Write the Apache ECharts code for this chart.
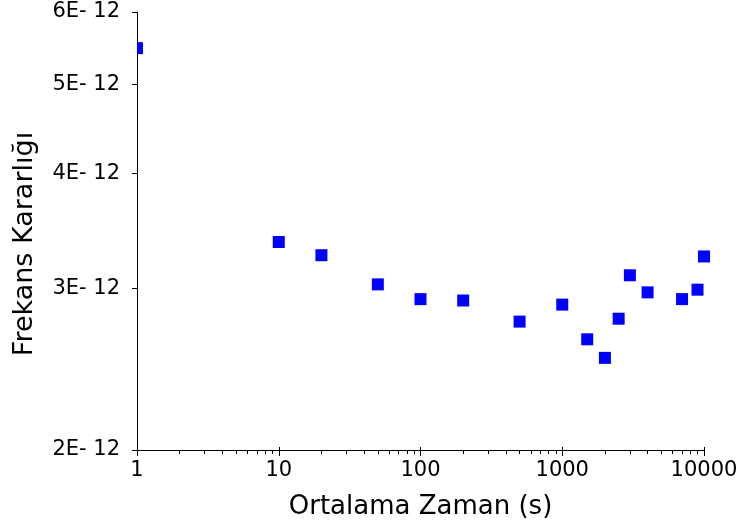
<!DOCTYPE html>
<html>
<head>
<meta charset="utf-8">
<script src="https://cdn.jsdelivr.net/npm/echarts@6/dist/echarts.min.js"></script>
<style>
  html, body { margin: 0; padding: 0; background: #fff; }
  #chart { width: 741px; height: 528px; }
</style>
</head>
<body>
<div id="chart"></div>
<script>
"use strict";
// averaging time (s) and frequency stability
const tau = [1, 10, 20, 50, 100, 200, 500, 1000, 1500, 2000, 2500, 3000, 4000, 7000, 9000, 10000];
const stability = [5.48e-12, 3.37e-12, 3.26e-12, 3.03e-12, 2.92e-12, 2.91e-12, 2.76e-12, 2.88e-12,
  2.64e-12, 2.52e-12, 2.78e-12, 3.10e-12, 2.97e-12, 2.92e-12, 2.99e-12, 3.25e-12];

const xMajorTicks = [1, 10, 100, 1000, 10000];
const xMinorTicks = [2, 3, 4, 5, 6, 7, 8, 9, 20, 30, 40, 50, 60, 70, 80, 90,
  200, 300, 400, 500, 600, 700, 800, 900, 2000, 3000, 4000, 5000, 6000, 7000, 8000, 9000];
const yTicks = [2e-12, 3e-12, 4e-12, 5e-12, 6e-12];
const yTickLabels = ["2E- 12", "3E- 12", "4E- 12", "5E- 12", "6E- 12"];

const font = "DejaVu Sans";
const chart = echarts.init(document.getElementById("chart"));

function yLabel(v) {
  let best = 0;
  yTicks.forEach((t, i) => {
    if (Math.abs(t - v) < Math.abs(yTicks[best] - v)) best = i;
  });
  return yTickLabels[best];
}

const xBase = {
  type: "log",
  min: 1,
  max: 10000,
  position: "bottom",
  splitLine: { show: false }
};

chart.setOption({
  animation: false,
  backgroundColor: "#fff",
  grid: { left: 137, right: 37, top: 12, bottom: 78 },
  xAxis: [
    Object.assign({}, xBase, {
      name: "Ortalama Zaman (s)",
      nameLocation: "middle",
      nameGap: 44,
      nameTextStyle: { fontFamily: font, fontSize: 26, color: "#000" },
      axisLine: { lineStyle: { color: "#000", width: 1 } },
      axisTick: { length: 6, lineStyle: { color: "#000" }, customValues: xMajorTicks },
      axisLabel: {
        fontFamily: font, fontSize: 21, color: "#000", margin: 10,
        customValues: xMajorTicks,
        formatter: (v) => String(Math.round(v))
      }
    }),
    Object.assign({}, xBase, {
      axisLine: { show: false },
      axisLabel: { show: false },
      axisTick: { length: 4, lineStyle: { color: "#000" }, customValues: xMinorTicks }
    }),
    Object.assign({}, xBase, {
      axisLine: { show: false },
      axisLabel: { show: false },
      axisTick: { inside: true, length: 3, lineStyle: { color: "#000" }, customValues: xMajorTicks }
    })
  ],
  yAxis: {
    type: "log",
    min: 2e-12,
    max: 6e-12,
    name: "Frekans Kararlığı",
    nameLocation: "middle",
    nameGap: 99,
    nameTextStyle: { fontFamily: font, fontSize: 27, color: "#000", padding: [0, 26, 0, 0] },
    splitLine: { show: false },
    axisLine: { show: true, lineStyle: { color: "#000", width: 1 } },
    axisTick: { show: true, length: 5, lineStyle: { color: "#000" }, customValues: yTicks },
    axisLabel: {
      fontFamily: font, fontSize: 21, color: "#000", margin: 17,
      customValues: yTicks,
      formatter: yLabel
    }
  },
  series: [{
    // custom series: squares are cut only at the y axis, like the original
    type: "custom",
    xAxisIndex: 0,
    yAxisIndex: 0,
    clip: false,
    data: tau.map((t, i) => [t, stability[i]]),
    renderItem: function (params, api) {
      const p = api.coord([api.value(0), api.value(1)]);
      const s = 12;
      const left = Math.max(p[0] - s / 2, params.coordSys.x);
      const right = p[0] + s / 2;
      return {
        type: "rect",
        shape: { x: left, y: p[1] - s / 2, width: right - left, height: s },
        style: { fill: "#0000ff" }
      };
    }
  }]
});
</script>
</body>
</html>
